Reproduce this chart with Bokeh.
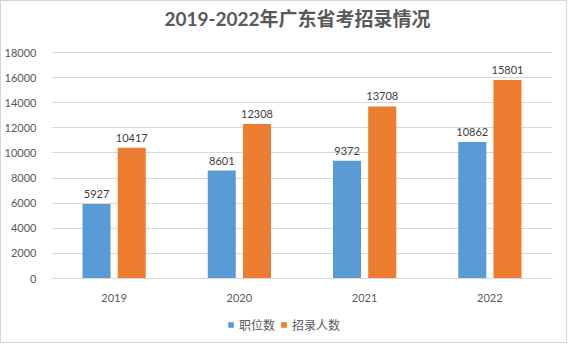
from bokeh.plotting import figure
from bokeh.layouts import column
from bokeh.models import ColumnDataSource, FactorRange, Range1d, FixedTicker, Legend, LegendItem, Label
from bokeh.transform import dodge
from bokeh.core.properties import value
from bokeh.embed import file_html
from bokeh.resources import INLINE

years = ["2019", "2020", "2021", "2022"]
positions = [5927, 8601, 9372, 10862]      # 职位数
recruits = [10417, 12308, 13708, 15801]    # 招录人数
y_ticks = [0, 2000, 4000, 6000, 8000, 10000, 12000, 14000, 16000, 18000]
title_text = "2019-2022年广东省考招录情况"
series_names = ["职位数", "招录人数"]

BLUE = "#5B9BD5"
ORANGE = "#ED7D31"
GRID = "#D9D9D9"
TXT = "#595959"

src = ColumnDataSource(dict(
    year=years,
    pos=positions,
    rec=recruits,
    pos_s=[str(v) for v in positions],
    rec_s=[str(v) for v in recruits],
))

FRAME_H = 277          # frame reaches the top edge; the title lives inside it
AXIS_TOP_PX = 51       # where 18000 sits
y_top = 18000 + AXIS_TOP_PX * 18000 / (FRAME_H - AXIS_TOP_PX)

p = figure(
    frame_width=501, frame_height=FRAME_H,
    x_range=FactorRange(factors=years, range_padding=0),
    y_range=Range1d(0, y_top),
    output_backend="svg", toolbar_location=None,
    min_border_left=48, min_border_right=14,
    min_border_top=0, min_border_bottom=22,
    background_fill_color="white", border_fill_color="white",
)
p.outline_line_color = None

off = 0.1406
bw = 0.224
p.vbar(x=dodge("year", -off, range=p.x_range), top="pos", width=bw, source=src,
       fill_color=BLUE, line_color=None)
p.vbar(x=dodge("year", off, range=p.x_range), top="rec", width=bw, source=src,
       fill_color=ORANGE, line_color=None)

p.text(x=dodge("year", -off, range=p.x_range), y="pos", text="pos_s", source=src,
       text_align="center", text_baseline="alphabetic", y_offset=-10,
       text_font=value("Lato"), text_font_size="11px", text_color="#404040")
p.text(x=dodge("year", off, range=p.x_range), y="rec", text="rec_s", source=src,
       text_align="center", text_baseline="alphabetic", y_offset=-10,
       text_font=value("Lato"), text_font_size="11px", text_color="#404040")

# title, drawn inside the (extended) frame
p.add_layout(Label(x=246, y=FRAME_H - 17, x_units="screen", y_units="screen",
                   text=title_text, text_align="center", text_baseline="middle",
                   text_font="Lato, 'Noto Sans CJK SC'", text_font_size="19px",
                   text_font_style="bold", text_color=TXT))

# axes
p.yaxis.ticker = FixedTicker(ticks=y_ticks)
p.yaxis.axis_line_color = None
p.yaxis.major_tick_line_color = None
p.yaxis.minor_tick_line_color = None
p.yaxis.major_label_standoff = 9
p.yaxis.major_label_text_font = "Lato"
p.yaxis.major_label_text_font_size = "11px"
p.yaxis.major_label_text_color = TXT

p.xaxis.axis_line_color = GRID
p.xaxis.major_tick_line_color = None
p.xaxis.minor_tick_line_color = None
p.xaxis.major_label_standoff = 9
p.xaxis.major_label_text_font = "Lato"
p.xaxis.major_label_text_font_size = "11px"
p.xaxis.major_label_text_color = TXT

p.xgrid.grid_line_color = None
p.ygrid.ticker = FixedTicker(ticks=y_ticks)
p.ygrid.grid_line_color = GRID

# legend strip (its own small figure below the chart)
q = figure(
    frame_width=563, frame_height=38,
    x_range=Range1d(0, 1), y_range=Range1d(0, 1),
    x_axis_location=None, y_axis_location=None,
    output_backend="svg", toolbar_location=None,
    min_border_left=0, min_border_right=0, min_border_top=0, min_border_bottom=0,
    background_fill_color="white", border_fill_color="white",
)
q.outline_line_color = None
q.xgrid.grid_line_color = None
q.ygrid.grid_line_color = None
k1 = q.vbar(x=[5], top=[1], width=0.1, fill_color=BLUE, line_color=None)
k2 = q.vbar(x=[5], top=[1], width=0.1, fill_color=ORANGE, line_color=None)

lg = Legend(items=[LegendItem(label=series_names[0], renderers=[k1]),
                   LegendItem(label=series_names[1], renderers=[k2])],
            location=(226, 9), orientation="horizontal")
lg.glyph_width = 7
lg.glyph_height = 7
lg.label_standoff = 5
lg.spacing = 5
lg.padding = 0
lg.margin = 0
lg.border_line_color = None
lg.background_fill_alpha = 0
lg.label_text_font = "Noto Sans CJK SC"
lg.label_text_font_size = "12px"
lg.label_text_color = TXT
lg.label_height = 14
q.add_layout(lg, "center")

layout = column(p, q, spacing=0, styles={"border": "1px solid #D4D4DC"})

open("out.html", "w").write(file_html(layout, INLINE))
